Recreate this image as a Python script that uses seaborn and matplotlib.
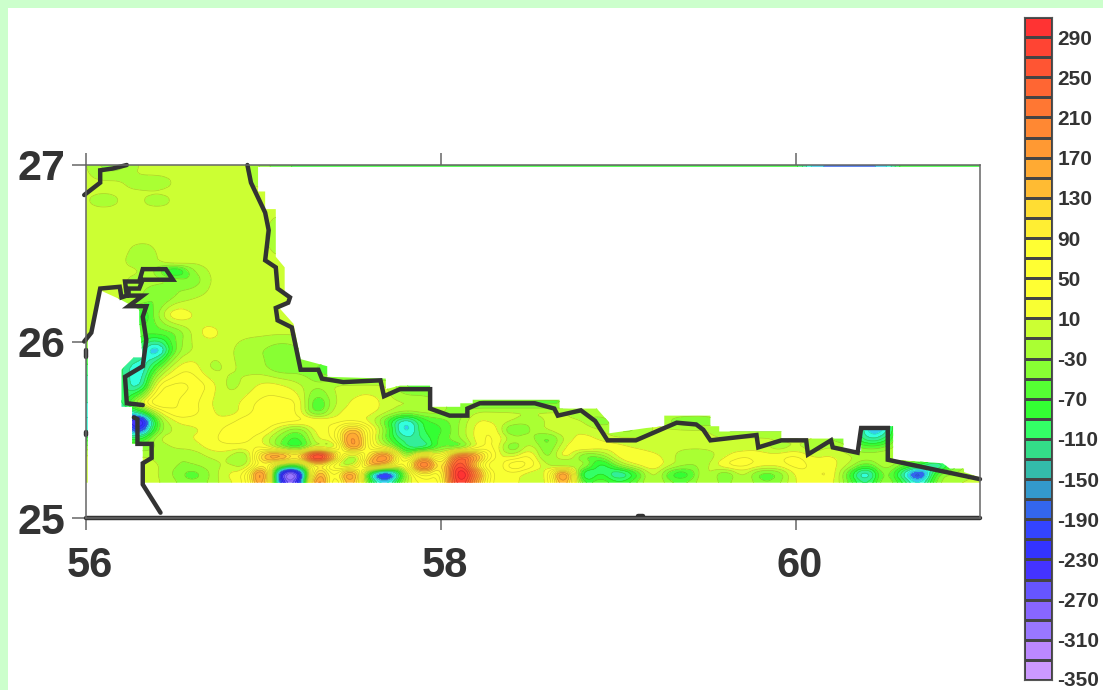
import matplotlib
matplotlib.use("Agg")
import matplotlib.pyplot as plt
import numpy as np
import pandas as pd
import seaborn as sns
from matplotlib.colors import BoundaryNorm, ListedColormap, to_rgb
from matplotlib.patches import PathPatch, Rectangle
from matplotlib.path import Path
from matplotlib.transforms import ScaledTranslation

# colour scale, one colour per 20 unit band, lowest band first
levels = list(range(-350, 311, 20))
band_colors = [
    "#cc99ff", "#bb88ff", "#9977ff", "#8866ff", "#6655ff", "#4433ff", "#3333ff", "#3344ff", "#3366ee",
    "#3399cc", "#33bbaa", "#33dd88", "#33ff66", "#33ff33", "#55ff33", "#88ff33", "#aaff33", "#ccff33",
    "#f8ff33", "#ffff33", "#ffff33", "#ffff33", "#ffee33", "#ffdd33", "#ffbb33", "#ffaa33", "#ff9933",
    "#ff8833", "#ff7733", "#ff6633", "#ff5533", "#ff4433", "#ff3333",
]
# the map itself shows brighter cyans than its legend in these three bands
map_colors = list(band_colors)
map_colors[9:12] = ["#33ccee", "#33ffdd", "#33ee99"]
bar_ticks = list(range(-350, 291, 40))

lons = [56.0, 56.1, 56.2, 56.3, 56.4, 56.5, 56.6, 56.7, 56.8, 56.9,
        57.0, 57.1, 57.2, 57.3, 57.4, 57.5, 57.6, 57.7, 57.8, 57.9,
        58.0, 58.1, 58.2, 58.3, 58.4, 58.5, 58.6, 58.7, 58.8, 58.9,
        59.0, 59.1, 59.2, 59.3, 59.4, 59.5, 59.6, 59.7, 59.8, 59.9,
        60.0, 60.1, 60.2, 60.3, 60.4, 60.5, 60.6, 60.7, 60.8, 60.9, 61.04]
lats = [27.0, 26.95, 26.9, 26.85, 26.8, 26.75, 26.6, 26.45, 26.4, 26.35, 26.25, 26.15, 26.05, 25.95, 25.85,
        25.75, 25.65, 25.6, 25.55, 25.5, 25.45, 25.4, 25.35, 25.3, 25.25, 25.2]

# values, one row per latitude
field = [
    [-5,-40,-40,-5,-5,-5,-5,-5,-5,-5,  -40,-70,-70,-70,-70,-70,-70,-70,-70,-70,  -70,-70,-70,-70,-70,-70,-70,-70,-70,-70,  -70,-70,-70,-70,-70,-70,-70,-70,-70,-70,  -70,-170,-170,-170,-170,-170,-70,-70,-70,-70,  -70],
    [-5,-25,-25,-5,-5,-5,-5,-5,-5,-5,  -30,-70,-70,-70,-70,-70,-70,-70,-70,-70,  -70,-70,-70,-70,-70,-70,-70,-70,-70,-70,  -70,-70,-70,-70,-70,-70,-70,-70,-70,-70,  -70,-170,-170,-170,-170,-170,-70,-70,-70,-70,  -70],
    [-5,-5,-5,-30,-30,-5,-5,-5,-5,-5,  -20,-5,-5,-5,-5,-5,-5,-5,-5,-5,  -5,-5,-5,-5,-5,-5,-5,-5,-5,-5,  -5,-5,-5,-5,-5,-5,-5,-5,-5,-5,  -5,-5,-5,-5,-5,-5,-5,-5,-5,-5,  -5],
    [-5,-5,-5,-5,-5,-5,-5,-5,-5,-5,  -5,-5,-5,-5,-5,-5,-5,-5,-5,-5,  -5,-5,-5,-5,-5,-5,-5,-5,-5,-5,  -5,-5,-5,-5,-5,-5,-5,-5,-5,-5,  -5,-5,-5,-5,-5,-5,-5,-5,-5,-5,  -5],
    [-5,-30,-5,-5,-25,-5,-5,-5,-5,-5,  -5,-5,-5,-5,-5,-5,-5,-5,-5,-5,  -5,-5,-5,-5,-5,-5,-5,-5,-5,-5,  -5,-5,-5,-5,-5,-5,-5,-5,-5,-5,  -5,-5,-5,-5,-5,-5,-5,-5,-5,-5,  -5],
    [-5,-5,-5,-5,-5,-5,-5,-5,-5,-5,  -5,-5,-5,-5,-5,-5,-5,-5,-5,-5,  -5,-5,-5,-5,-5,-5,-5,-5,-5,-5,  -5,-5,-5,-5,-5,-5,-5,-5,-5,-5,  -5,-5,-5,-5,-5,-5,-5,-5,-5,-5,  -5],
    [-5,-5,-5,-5,-5,-5,-5,-5,-5,-5,  -5,-30,-5,-5,-5,-5,-5,-5,-5,-5,  -5,-5,-5,-5,-5,-5,-5,-5,-5,-5,  -5,-5,-5,-5,-5,-5,-5,-5,-5,-5,  -5,-5,-5,-5,-5,-5,-5,-5,-5,-5,  -5],
    [-5,-5,-5,-25,-15,20,-5,-5,-5,-5,  -5,-5,-5,-5,-5,-5,-5,-5,-5,-5,  -5,-5,-5,-5,-5,-5,-5,-5,-5,-5,  -5,-5,-5,-5,-5,-5,-5,-5,-5,-5,  -5,-5,-5,-5,-5,-5,-5,-5,-5,-5,  -5],
    [-5,-5,-5,-5,-35,-130,-30,-5,-5,-5,  -5,-5,-5,-5,-5,-5,-5,-5,-5,-5,  -5,-5,-5,-5,-5,-5,-5,-5,-5,-5,  -5,-5,-5,-5,-5,-5,-5,-5,-5,-5,  -5,-5,-5,-5,-5,-5,-5,-5,-5,-5,  -5],
    [-5,-5,-5,-20,-20,-35,-55,-5,-5,-5,  -5,-5,-5,-5,-5,-5,-5,-5,-5,-5,  -5,-5,-5,-5,-5,-5,-5,-5,-5,-5,  -5,-5,-5,-5,-5,-5,-5,-5,-5,-5,  -5,-5,-5,-5,-5,-5,-5,-5,-5,-5,  -5],
    [-5,-5,-10,-25,-60,-30,-10,-5,-5,-5,  -5,-5,-5,-5,-5,-5,-5,-5,-5,-5,  -5,-5,-5,-5,-5,-5,-5,-5,-5,-5,  -5,-5,-5,-5,-5,-5,-5,-5,-5,-5,  -5,-5,-5,-5,-5,-5,-5,-5,-5,-5,  -5],
    [-5,-5,-5,-110,-35,40,10,-5,-5,-5,  -5,-5,-5,-5,-5,-5,-5,-5,-5,-5,  -5,-5,-5,-5,-5,-5,-5,-5,-5,-5,  -5,-5,-5,-5,-5,-5,-5,-5,-5,-5,  -5,-5,-5,-5,-5,-5,-5,-5,-5,-5,  -5],
    [-5,-5,-30,-60,-60,-55,-5,25,-5,-5,  -5,-5,-5,-5,-5,-5,-5,-5,-5,-5,  -5,-5,-5,-5,-5,-5,-5,-5,-5,-5,  -5,-5,-5,-5,-5,-5,-5,-5,-5,-5,  -5,-5,-5,-5,-5,-5,-5,-5,-5,-5,  -5],
    [-60,-30,-60,-100,-200,-45,-5,-5,-5,-20,  -30,-50,-35,-5,-5,-5,-5,-5,-5,-5,  -5,-5,-5,-5,-5,-5,-5,-5,-5,-5,  -5,-5,-5,-5,-5,-5,-5,-5,-5,-5,  -5,-5,-5,-5,-5,-5,-5,-5,-5,-5,  -5],
    [-100,-100,-100,-170,-65,15,30,-20,-5,-15,  -25,-50,-40,-50,-90,-90,-90,-90,-5,-5,  -5,-5,-5,-5,-5,-5,-5,-5,-5,-5,  -5,-5,-5,-5,-5,-5,-5,-5,-5,-5,  -5,-5,-5,-5,-5,-5,-5,-5,-5,-5,  -5],
    [-130,-100,-90,-170,40,60,50,25,-20,-5,  20,15,-5,-30,-5,-5,-5,-5,-60,-60,  -60,-5,-5,-5,-5,-5,-5,-5,-5,-5,  -5,-5,-5,-5,-5,-5,-5,-5,-5,-5,  -5,-5,-5,-5,-5,-5,-5,-5,-5,-5,  -5],
    [-130,-120,-130,10,90,50,40,10,-5,20,  40,40,35,-90,-10,15,30,-5,-5,-5,  -30,-30,-60,-60,-60,-60,-60,-60,-5,-5,  -5,-5,-5,-5,-5,-5,-5,-5,-5,-5,  -5,-5,-5,-5,-5,-5,-5,-5,-5,-5,  -5],
    [-150,-150,-150,-120,5,55,40,15,-5,20,  45,45,30,-80,5,20,20,-5,-30,-20,  -20,-50,-5,-5,-5,-5,-5,-5,-40,-5,  -5,-5,-5,-5,-5,-5,-5,-5,-5,-5,  -5,-5,-5,-5,-5,-5,-5,-5,-5,-5,  -5],
    [-150,-150,-150,-330,-50,15,20,15,20,45,  50,45,40,40,20,20,5,-70,-170,-80,  -60,-35,15,5,-5,-30,-5,-5,-5,-60,  -5,-5,-5,-40,-60,-60,-5,-5,-5,-5,  -5,-5,-5,-5,-170,-170,-5,-5,-5,-5,  -5],
    [-150,-100,-100,-260,-45,-5,5,15,40,50,  45,-15,-55,25,30,170,50,-50,-190,-80,  -80,-30,20,35,-75,-30,-5,15,5,-5,  -40,-40,-5,-5,-5,-5,-40,-40,-40,-40,  -40,-5,-5,-5,-170,-170,-5,-5,-5,-5,  -5],
    [-80,-80,-80,-100,-5,5,10,25,40,40,  5,-50,-90,15,25,230,40,-70,-130,-110,  -60,-35,20,40,-20,-15,-75,-5,20,5,  -5,-5,-5,-5,-5,-5,-5,-5,-5,-5,  -5,-5,-40,-40,-140,-120,-5,-5,-5,-5,  -5],
    [-40,-40,-40,-50,-30,-5,-5,20,25,20,  30,-60,-100,-5,-55,230,40,-5,-110,-150,  -40,-90,15,45,-75,15,-60,15,40,25,  20,5,-5,-5,-5,-5,-5,-5,5,-30,  -5,-30,-5,-30,-60,-50,-5,-5,-5,-5,  -5],
    [-5,-5,-5,-5,-15,-30,-30,-5,-5,-60,  170,230,110,420,170,-90,120,260,-80,150,  -10,260,190,25,-5,50,-60,50,-70,-50,  25,40,20,-5,-30,-25,5,35,20,25,  40,5,15,-5,-15,-5,-5,-30,-30,-5,  -5],
    [-5,-5,-5,-5,-5,-30,-30,-20,-5,-30,  100,-40,-70,100,-5,-60,200,120,-5,320,  40,330,90,-20,90,50,-5,-80,15,-130,  -30,15,35,-5,-30,-20,40,45,25,20,  45,25,20,-5,-70,-5,-50,-80,-170,-50,  -5],
    [-5,-5,-5,-5,-5,-35,-70,-30,15,30,  280,-330,-340,220,20,260,-160,-300,-30,100,  30,370,210,5,25,-5,-5,280,-170,-70,  -160,-90,15,-90,-90,15,-70,5,-70,-60,  20,25,40,-70,-190,-15,-130,-260,-40,-25,  -5],
    [-5,-5,-5,-5,-5,-25,-50,-25,5,25,  230,-260,-280,280,-5,200,-90,-170,-5,40,  25,340,160,5,20,-5,-5,200,-90,-40,  -90,-50,5,-50,-50,5,-50,5,-50,-40,  15,20,25,-50,-130,-15,-80,-170,-25,-10,  -5],
]

# outline of the area that has data
area_lon = [61.04, 56.32, 56.32, 56.26, 56.26, 56.20, 56.20, 56.27, 56.32, 56.30, 56.30, 56.19, 56.08, 56.06,
            56.01, 56.01, 56.0, 56.0, 61.04, 61.04, 56.97, 56.97, 57.01, 57.01, 57.07, 57.07, 57.12, 57.12,
            57.15, 57.15, 57.09, 57.17, 57.21, 57.36, 57.36, 57.69, 57.69, 57.77, 57.94, 57.94, 58.11, 58.11,
            58.18, 58.18, 58.67, 58.67, 58.88, 58.95, 58.95, 59.16, 59.26, 59.26, 59.52, 59.52, 59.57, 59.57,
            59.92, 59.92, 60.27, 60.27, 60.37, 60.37, 60.55, 60.55, 60.83, 60.87, 60.95, 60.95, 61.04]
area_lat = [25.2, 25.2, 25.42, 25.42, 25.63, 25.63, 25.84, 25.91, 25.91, 26.11, 26.18, 26.24, 26.29, 26.24,
            26.0, 25.2, 25.2, 27.0, 27.0, 26.99, 26.99, 26.85, 26.85, 26.75, 26.75, 26.48, 26.42, 26.27,
            26.25, 26.22, 26.19, 26.10, 25.90, 25.86, 25.80, 25.79, 25.73, 25.75, 25.75, 25.63, 25.63, 25.65,
            25.65, 25.67, 25.67, 25.62, 25.62, 25.54, 25.48, 25.51, 25.52, 25.58, 25.58, 25.52, 25.52, 25.49,
            25.49, 25.45, 25.45, 25.38, 25.38, 25.52, 25.52, 25.33, 25.31, 25.28, 25.28, 25.26, 25.23]

# coast pieces
coast_nw_lon = [55.99, 56.08, 56.08, 56.15, 56.23]
coast_nw_lat = [26.83, 26.90, 26.97, 26.98, 27.0]
coast_gulf_lon = [55.99, 56.03, 56.08, 56.19, 56.20, 56.23, 56.22, 56.30, 56.32, 56.45, 56.49, 56.32, 56.30,
                  56.24, 56.24, 56.32, 56.24, 56.34, 56.32, 56.34, 56.32, 56.22, 56.23, 56.32]
coast_gulf_lat = [26.0, 26.05, 26.30, 26.31, 26.25, 26.26, 26.34, 26.34, 26.41, 26.41, 26.35, 26.35, 26.30,
                  26.30, 26.26, 26.26, 26.20, 26.20, 26.14, 26.01, 25.86, 25.80, 25.65, 25.64]
coast_south_lon = [56.27, 56.29, 56.29, 56.37, 56.37, 56.32, 56.32, 56.42]
coast_south_lat = [25.57, 25.56, 25.42, 25.42, 25.34, 25.31, 25.19, 25.03]
coast_main_lon = [56.91, 56.93, 57.01, 57.03, 57.01, 57.07, 57.08, 57.15, 57.14, 57.07, 57.08, 57.16, 57.21,
                  57.31, 57.33, 57.45, 57.66, 57.68, 57.77, 57.94, 57.94, 58.05, 58.15, 58.15, 58.22, 58.53,
                  58.64, 58.66, 58.79, 58.87, 58.94, 59.10, 59.33, 59.44, 59.48, 59.52, 59.78, 59.79, 59.92,
                  60.06, 60.07, 60.20, 60.21, 60.35, 60.37, 60.52, 60.52, 61.04]
coast_main_lat = [27.0, 26.90, 26.73, 26.63, 26.46, 26.42, 26.30, 26.25, 26.22, 26.19, 26.12, 26.08, 25.84,
                  25.84, 25.79, 25.77, 25.78, 25.69, 25.73, 25.73, 25.62, 25.58, 25.58, 25.62, 25.65, 25.65,
                  25.62, 25.58, 25.61, 25.55, 25.44, 25.44, 25.54, 25.53, 25.50, 25.44, 25.47, 25.40, 25.44,
                  25.44, 25.36, 25.44, 25.40, 25.37, 25.51, 25.51, 25.33, 25.22]
coast_base_lon = [56.0, 61.04]
coast_base_lat = [25.0, 25.0]
# tiny islets on the frame
islet_lons = [[56.0, 56.0], [56.0, 56.0], [59.11, 59.14]]
islet_lats = [[25.95, 25.91], [25.49, 25.47], [25.012, 25.012]]


def smooth_field(rows, step=0.01, half_lon=5, half_lat=2):
    # resample the read-off grid and soften it, so the contours come out round
    fine_lon = np.arange(lons[0], lons[-1] + step / 2, step)
    fine_lat = np.arange(lats[-1], lats[0] + step / 2, step)
    raw = np.array(rows, dtype=float)[::-1]
    by_lon = np.array([np.interp(fine_lon, lons, r) for r in raw])
    fine = np.array([np.interp(fine_lat, lats[::-1], by_lon[:, j]) for j in range(by_lon.shape[1])]).T
    for axis, half in ((1, half_lon), (0, half_lat)):
        kernel = np.ones(2 * half + 1) / (2 * half + 1)
        fine = np.apply_along_axis(lambda c: np.convolve(np.pad(c, half, mode="edge"), kernel, mode="valid"), axis, fine)
    return fine_lon, fine_lat, fine


sns.set_theme(style="white")
plt.rcParams["font.family"] = ["Liberation Sans", "DejaVu Sans"]

W, H = 1103, 690
fig = plt.figure(figsize=(W / 100, H / 100), dpi=100, facecolor="white")
fig.add_artist(Rectangle((0, 1 - 8 / H), 1, 8 / H, transform=fig.transFigure, color="#ccffcc", lw=0))
fig.add_artist(Rectangle((0, 0), 8 / W, 1, transform=fig.transFigure, color="#ccffcc", lw=0))

ax = fig.add_axes([86 / W, (H - 518) / H, (980 - 86) / W, (518 - 165) / H])
ax.set_facecolor("white")

x_fine, y_fine, grid = smooth_field(field)
line_colors = [np.array(to_rgb(c)) * 0.82 for c in map_colors] + [np.array(to_rgb(map_colors[-1])) * 0.82]

filled = ax.contourf(x_fine, y_fine, grid, levels=levels, colors=map_colors)
lines = ax.contour(x_fine, y_fine, grid, levels=levels, colors=line_colors, linewidths=0.5)
outline = PathPatch(Path(np.column_stack([area_lon, area_lat])), transform=ax.transData, fc="none", ec="none")
ax.add_patch(outline)
filled.set_clip_path(outline)
lines.set_clip_path(outline)

coast = [(coast_nw_lon, coast_nw_lat), (coast_gulf_lon, coast_gulf_lat), (coast_south_lon, coast_south_lat),
         (coast_main_lon, coast_main_lat), (coast_base_lon, coast_base_lat)] + list(zip(islet_lons, islet_lats))
for piece_lon, piece_lat in coast:
    sns.lineplot(x=piece_lon, y=piece_lat, sort=False, estimator=None, color="#333333", lw=3.2, ax=ax,
                 clip_on=False, solid_joinstyle="miter", solid_capstyle="round", legend=False)

ax.set_xlim(56, 61.04)
ax.set_ylim(25, 27)
ax.set_xticks([56, 58, 60])
ax.set_yticks([25, 26, 27])
ax.set_xticklabels(["56", "58", "60"])
ax.set_yticklabels(["25", "26", "27"])
ax.tick_params(axis="x", which="both", top=True, bottom=True, length=8.5, width=1.1, color="#666666", pad=12,
               labelsize=30, labelcolor="#333333")
ax.tick_params(axis="y", left=True, length=10, width=1.1, color="#666666", pad=5, labelsize=31, labelcolor="#333333")
for lab in ax.get_xticklabels() + ax.get_yticklabels():
    lab.set_fontweight("bold")
# the x labels sit a little right of their ticks
for lab in ax.get_xticklabels():
    lab.set_transform(lab.get_transform() + ScaledTranslation(4 / 100, 0, fig.dpi_scale_trans))
for side in ["left", "right", "top", "bottom"]:
    ax.spines[side].set_color("#666666")
    ax.spines[side].set_linewidth(1.1)
ax.set_xlabel("")
ax.set_ylabel("")

# colour bar, top band first so it reads like the reference
cax = fig.add_axes([1024 / W, (H - 680) / H, 28 / W, (680 - 17) / H])
mids = [(a + b) / 2 for a, b in zip(levels[:-1], levels[1:])][::-1]
bar = pd.DataFrame({"v": mids})
sns.heatmap(bar, ax=cax, cbar=False, cmap=ListedColormap(band_colors), norm=BoundaryNorm(levels, len(band_colors)),
            linewidths=0.8, linecolor="#444444", xticklabels=False, yticklabels=False)
cax.yaxis.tick_right()
cax.set_yticks([(levels[-1] - t) / 20 for t in bar_ticks])
cax.set_yticklabels([str(t) for t in bar_ticks], rotation=0, fontsize=15, fontweight="bold", color="#333333")
cax.tick_params(axis="y", right=False, length=0, pad=4)
lowest = cax.get_yticklabels()[0]
lowest.set_transform(lowest.get_transform() + ScaledTranslation(0, 2 / 100, fig.dpi_scale_trans))
for side in cax.spines.values():
    side.set_visible(True)
    side.set_color("#555555")
    side.set_linewidth(0.8)

fig.savefig("out.png", dpi=100)
